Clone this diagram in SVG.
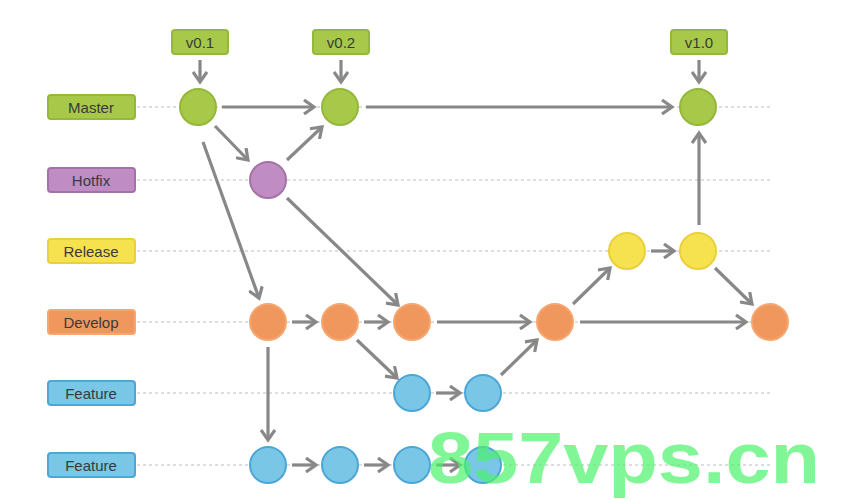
<svg xmlns="http://www.w3.org/2000/svg" width="841" height="500" viewBox="0 0 841 500">
<defs>
<marker id="ahb" markerWidth="16" markerHeight="16" refX="12" refY="8" orient="auto" markerUnits="userSpaceOnUse" viewBox="0 0 16 16">
<polyline points="2,1 12,8 2,15" fill="none" stroke="#888" stroke-width="3.2"/>
</marker>
</defs>
<style>
.lbl{font-family:"Liberation Sans",Arial,sans-serif;font-size:15px;fill:#3a3a3a;text-anchor:middle;dominant-baseline:central}
.dash{stroke:#bbb;stroke-width:1;stroke-dasharray:3,3}
.c{stroke:#888;stroke-width:3.2;fill:none;marker-end:url(#ahb)}
.g{fill:#a8c84a;stroke:#93b83a;stroke-width:2}
.p{fill:#c08cc4;stroke:#a571a9;stroke-width:2}
.y{fill:#f6e24e;stroke:#ead03c;stroke-width:2}
.o{fill:#f0975e;stroke:#f6a66e;stroke-width:2}
.b{fill:#79c6e6;stroke:#4ea6d6;stroke-width:2}
</style>
<rect width="841" height="500" fill="#fff"/>
<g id="lanes">
<line class="dash" x1="137" y1="107" x2="772" y2="107"/>
<line class="dash" x1="137" y1="180" x2="772" y2="180"/>
<line class="dash" x1="137" y1="251" x2="772" y2="251"/>
<line class="dash" x1="137" y1="322" x2="772" y2="322"/>
<line class="dash" x1="137" y1="393" x2="772" y2="393"/>
<line class="dash" x1="137" y1="465" x2="772" y2="465"/>
</g>
<g id="label-master"><rect class="g" x="48" y="95" width="87" height="24" rx="3"/><text class="lbl" x="91" y="107">Master</text></g>
<g id="label-hotfix"><rect class="p" x="48" y="168" width="87" height="24" rx="3"/><text class="lbl" x="91" y="180">Hotfix</text></g>
<g id="label-release"><rect class="y" x="48" y="239" width="87" height="24" rx="3"/><text class="lbl" x="91" y="251">Release</text></g>
<g id="label-develop"><rect class="o" x="48" y="310" width="87" height="24" rx="3"/><text class="lbl" x="91" y="322">Develop</text></g>
<g id="label-feature1"><rect class="b" x="48" y="381" width="87" height="24" rx="3"/><text class="lbl" x="91" y="393">Feature</text></g>
<g id="label-feature2"><rect class="b" x="48" y="453" width="87" height="24" rx="3"/><text class="lbl" x="91" y="465">Feature</text></g>
<g id="tag-v01"><rect class="g" x="172" y="30" width="56" height="24" rx="3"/><text class="lbl" x="200" y="42">v0.1</text></g>
<g id="tag-v02"><rect class="g" x="313" y="30" width="56" height="24" rx="3"/><text class="lbl" x="341" y="42">v0.2</text></g>
<g id="tag-v10"><rect class="g" x="671" y="30" width="56" height="24" rx="3"/><text class="lbl" x="699" y="42">v1.0</text></g>
<g id="connectors">
<line class="c" x1="200" y1="60" x2="200" y2="82"/>
<line class="c" x1="341" y1="60" x2="341" y2="82"/>
<line class="c" x1="699" y1="60" x2="699" y2="82"/>
<line class="c" x1="222" y1="107" x2="314" y2="107"/>
<line class="c" x1="366" y1="107" x2="672" y2="107"/>
<line class="c" x1="215" y1="126" x2="248" y2="160"/>
<line class="c" x1="287" y1="160" x2="322" y2="127"/>
<line class="c" x1="203" y1="142" x2="259" y2="298"/>
<line class="c" x1="287" y1="198" x2="398" y2="305"/>
<line class="c" x1="292" y1="322" x2="316" y2="322"/>
<line class="c" x1="364" y1="322" x2="388" y2="322"/>
<line class="c" x1="437" y1="322" x2="530" y2="322"/>
<line class="c" x1="580" y1="322" x2="746" y2="322"/>
<line class="c" x1="357" y1="340" x2="397" y2="378"/>
<line class="c" x1="436" y1="393" x2="460" y2="393"/>
<line class="c" x1="501" y1="375" x2="537" y2="340"/>
<line class="c" x1="573" y1="304" x2="610" y2="268"/>
<line class="c" x1="651" y1="251" x2="674" y2="251"/>
<line class="c" x1="699" y1="225" x2="699" y2="133"/>
<line class="c" x1="715" y1="268" x2="752" y2="304"/>
<line class="c" x1="268" y1="347" x2="268" y2="440"/>
<line class="c" x1="292" y1="465" x2="316" y2="465"/>
<line class="c" x1="364" y1="465" x2="388" y2="465"/>
<line class="c" x1="436" y1="465" x2="460" y2="465"/>
</g>
<g id="master-commits"><circle class="g" cx="198" cy="107" r="18"/><circle class="g" cx="340" cy="107" r="18"/><circle class="g" cx="698" cy="107" r="18"/></g>
<g id="hotfix-commits"><circle class="p" cx="268" cy="180" r="18"/></g>
<g id="release-commits"><circle class="y" cx="627" cy="251" r="18"/><circle class="y" cx="698" cy="251" r="18"/></g>
<g id="develop-commits"><circle class="o" cx="268" cy="322" r="18"/><circle class="o" cx="340" cy="322" r="18"/><circle class="o" cx="412" cy="322" r="18"/><circle class="o" cx="555" cy="322" r="18"/><circle class="o" cx="770" cy="322" r="18"/></g>
<g id="feature1-commits"><circle class="b" cx="412" cy="393" r="18"/><circle class="b" cx="483" cy="393" r="18"/></g>
<g id="feature2-commits"><circle class="b" cx="268" cy="465" r="18"/><circle class="b" cx="340" cy="465" r="18"/><circle class="b" cx="412" cy="465" r="18"/><circle class="b" cx="483" cy="465" r="18"/></g>
<text x="428" y="483" font-family="Liberation Sans,Arial,sans-serif" font-weight="bold" font-size="72" textLength="392" lengthAdjust="spacingAndGlyphs" fill="#4cf26a" fill-opacity="0.7">857vps.cn</text>
</svg>
